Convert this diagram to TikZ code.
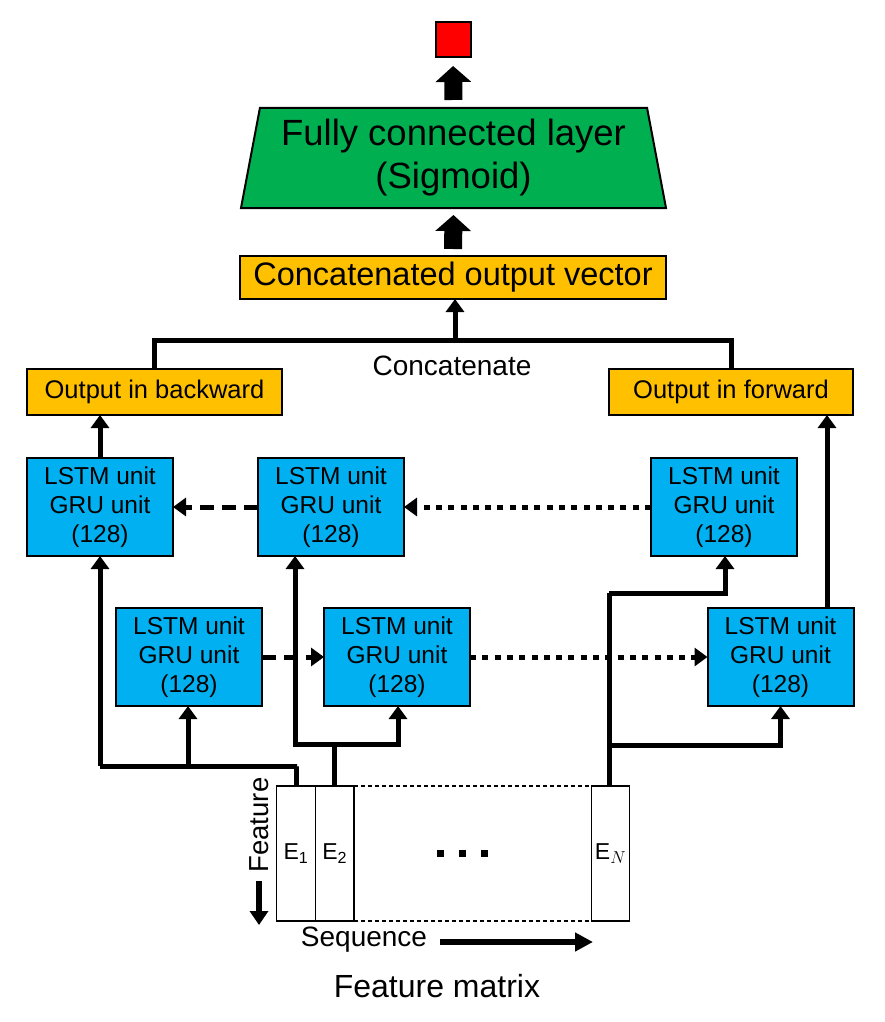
\documentclass[tikz,border=0pt]{standalone}
\usepackage{fontspec}
\setmainfont{Liberation Sans}
\usetikzlibrary{arrows.meta,shapes.geometric}
\definecolor{lblue}{HTML}{00B0F0}
\definecolor{orng}{HTML}{FFC000}
\definecolor{fcgreen}{HTML}{00B050}
\definecolor{outred}{HTML}{FF0000}
\begin{document}
\begin{tikzpicture}[x=1pt,y=-1pt,
  every node/.style={outer sep=0pt},
  lstm/.style={draw, line width=2pt, fill=lblue, minimum width=146pt, minimum height=98pt,
    align=center, inner sep=0pt, font=\fontsize{24.5}{29}\selectfont},
  obox/.style={draw, line width=2pt, fill=orng, minimum height=46pt, inner sep=0pt,
    font=\fontsize{25.5}{30}\selectfont},
  col/.style={draw, line width=1.3pt, minimum width=38.5pt, minimum height=135pt, inner sep=0pt,
    font=\fontsize{23}{27}\selectfont},
  conn/.style={line width=5pt},
  arr/.style={conn, -{Triangle[length=13pt,width=18pt]}},
  bigarr/.style={line width=18pt, -{Triangle[length=16pt,width=35pt]}},
  dashedconn/.style={arr, dash pattern=on 14pt off 8pt},
  dottedconn/.style={arr, dash pattern=on 6pt off 6.3pt},
  lbl/.style={inner sep=0pt}
]
\useasboundingbox (0,0) rectangle (885,1022);

% top
\node[draw, line width=2pt, fill=outred, minimum width=35pt, minimum height=35pt, inner sep=0pt] (out) at (453,39.5) {};
\node[trapezium, trapezium left angle=76.2, trapezium right angle=76.2, trapezium stretches body,
  draw, line width=2pt, fill=fcgreen, minimum width=425pt, minimum height=100pt, inner sep=0pt,
  align=center, font=\fontsize{36.5}{43}\selectfont] (fc) at (453.5,158) {Fully connected layer\\(Sigmoid)};
\node[draw, line width=2pt, fill=orng, minimum width=426pt, minimum height=43pt, inner sep=0pt,
  font=\fontsize{32.5}{36}\selectfont] (cov) at (453,277.5) {Concatenated output vector};

\draw[bigarr, shorten <=8pt, shorten >=9pt] (fc.north) -- (out.south);
\draw[bigarr, shorten <=7pt, shorten >=7pt] (cov.north) -- (fc.south);

% outputs
\node[obox, minimum width=255pt] (ob) at (154.5,392) {Output in backward};
\node[obox, minimum width=244pt] (of) at (731,392) {Output in forward};

\coordinate (cat) at (455,340);
\draw[conn] (ob.north) |- (cat) -| (of.north);
\draw[arr] (cat) -- (cat |- cov.south);
\node[lbl, font=\fontsize{28}{32}\selectfont] (catlbl) at (452,366) {Concatenate};

% LSTM units
\node[lstm] (b1) at (100,507) {LSTM unit\\GRU unit\\(128)};
\node[lstm] (b2) at (331,507) {LSTM unit\\GRU unit\\(128)};
\node[lstm] (b3) at (724,507) {LSTM unit\\GRU unit\\(128)};
\node[lstm] (f1) at (189,657) {LSTM unit\\GRU unit\\(128)};
\node[lstm] (f2) at (397,657) {LSTM unit\\GRU unit\\(128)};
\node[lstm] (f3) at (780.5,657) {LSTM unit\\GRU unit\\(128)};

\draw[arr] (b1.north) -- (b1.north |- ob.south);
\coordinate (xf) at (827,0);
\draw[arr] (f3.north -| xf) -- (of.south -| xf);

\draw[dashedconn] (b2.west) -- (b1.east);
\draw[dottedconn] (b3.west) -- (b2.east);
\draw[dashedconn] (f1.east) -- (f2.west);
\draw[dottedconn] (f2.east) -- (f3.west);

% feature matrix
\node[col] (e1) at (296,853.5) {E\textsubscript{1}};
\node[col] (e2) at (334.75,853.5) {E\textsubscript{2}};
\node[col] (en) at (610.5,853.5) {E$_{N}$};
\draw[line width=1.3pt, dash pattern=on 4pt off 3pt] (e2.north east) -- (en.north west);
\draw[line width=1.3pt, dash pattern=on 4pt off 3pt] (e2.south east) -- (en.south west);
\node[lbl] (dots) at (462,853) {\rule{7pt}{7pt}\hspace{15pt}\rule{7pt}{7pt}\hspace{15pt}\rule{7pt}{7pt}};

% input connections
\coordinate (j1) at (297,766);
\coordinate (j1a) at (100,766);
\coordinate (j1b) at (188,766);
\draw[conn] (e1.north) |- (j1) -- (j1a);
\draw[arr] (j1a) -- (b1.south);
\draw[arr] (j1b) -- (j1b |- f1.south);

\coordinate (j2) at (334.75,744);
\coordinate (j2a) at (295,744);
\coordinate (j2b) at (398,744);
\draw[conn] (e2.north) -- (j2);
\draw[arr] (j2b) -| (j2a) -- (j2a |- b2.south);
\draw[arr] (j2a) -| (j2b) -- (j2b |- f2.south);

\coordinate (j3) at (609,745);
\coordinate (j3t) at (609,593);
\coordinate (j3a) at (725,593);
\draw[conn] (en.north -| j3) -- (j3t);
\draw[arr] (j3t) -| (j3a) -- (j3a |- b3.south);
\draw[arr] (j3) -| (f3.south);

% axis labels
\node[lbl, rotate=90, font=\fontsize{27.5}{30}\selectfont] (feat) at (259,825) {Feature};
\coordinate (fa1) at (259,881);
\coordinate (fa2) at (259,925);
\draw[line width=6pt, -{Triangle[length=14pt,width=18pt]}] (fa1) -- (fa2);
\node[lbl, font=\fontsize{28}{32}\selectfont] (seq) at (364,940) {Sequence};
\coordinate (sa1) at (440,942);
\coordinate (sa2) at (593,942);
\draw[line width=6pt, -{Triangle[length=18pt,width=18pt]}] (sa1) -- (sa2);
\node[lbl, font=\fontsize{32}{36}\selectfont] (fm) at (437,986) {Feature matrix};
\end{tikzpicture}
\end{document}
